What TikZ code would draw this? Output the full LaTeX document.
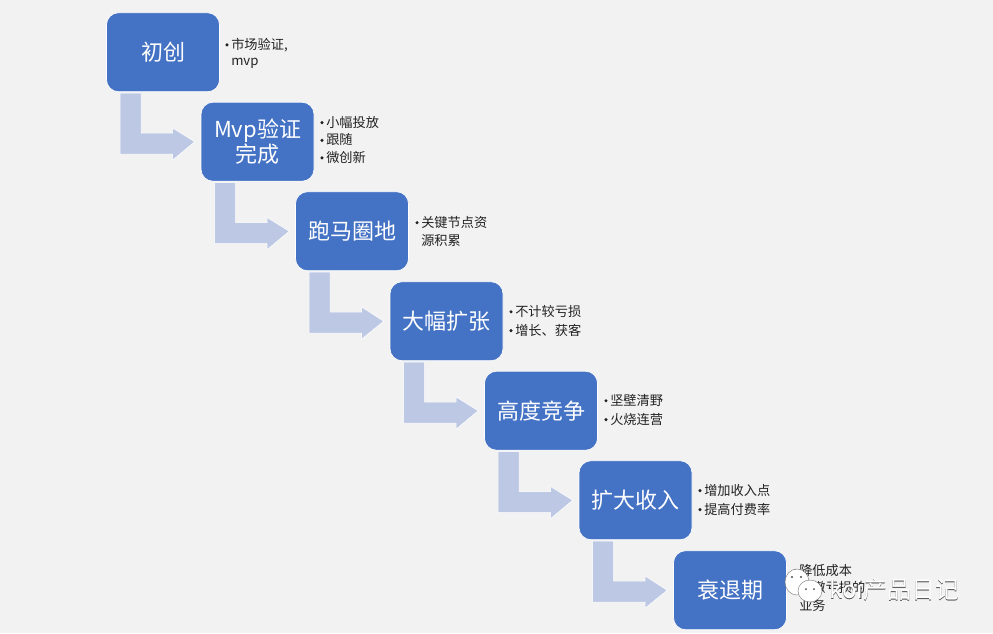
\documentclass[tikz,border=0pt]{standalone}
\usepackage{fontspec}
\setmainfont{Noto Sans CJK SC}
\usetikzlibrary{calc}
\definecolor{bgc}{HTML}{F2F2F2}
\definecolor{boxc}{HTML}{4472C4}
\definecolor{arrowc}{HTML}{BDC8E4}
\definecolor{textc}{HTML}{222222}
\tikzset{x=0.75pt,y=-0.75pt,
  stagebox/.style={draw=white,line width=0.5pt,fill=boxc,rounded corners=9pt,minimum width=84.75pt,minimum height=59.25pt,inner sep=0pt,text=white,font=\fontsize{16.5}{21}\selectfont,align=center,anchor=north west},
  notes/.style={anchor=north west,inner sep=0pt,font=\fontsize{9.9}{13.2}\selectfont,text=textc,align=left},
  bentarrow/.style={fill=arrowc,draw=white,line width=0.4pt,line join=miter},
  wm/.style={anchor=west,inner sep=0pt,font=\fontsize{18}{20}\selectfont,text=white},
  wmshadow/.style={wm,text=black!70}}
\newcommand{\bul}{\makebox[4.5pt][l]{\raisebox{2.2pt}{\tikz\fill[textc] (0,0) circle (1.3pt);}}}
\newcommand{\bentconn}[2]{%
  \path[bentarrow] ($(#1.south west)+(14,1)$) -- ($(#1.south west)+(35,1)$) -- ($(#1.south west)+(35,41)$)
   -- ($(#1.south west)+(66.5,41)$) -- ($(#1.south west)+(66.5,36)$) -- ($(#2.west)+(-6,0)$)
   -- ($(#1.south west)+(66.5,68)$) -- ($(#1.south west)+(66.5,62)$) -- ($(#1.south west)+(14,62)$) -- cycle;}
\begin{document}
\begin{tikzpicture}
\useasboundingbox (0,0) rectangle (993,633);
\fill[bgc] (0,0) rectangle (993,633);
\node[stagebox] (s1) at (106.2,12.4) {初创};
\node[stagebox] (s2) at (200.7,101.9) {Mvp验证\\[-2pt]完成};
\node[stagebox] (s3) at (295.2,191.4) {跑马圈地};
\node[stagebox] (s4) at (389.7,281.4) {大幅扩张};
\node[stagebox] (s5) at (484.2,370.9) {高度竞争};
\node[stagebox] (s6) at (578.7,460.4) {扩大收入};
\node[stagebox] (s7) at (673.2,550.4) {衰退期};
\bentconn{s1}{s2}
\bentconn{s2}{s3}
\bentconn{s3}{s4}
\bentconn{s4}{s5}
\bentconn{s5}{s6}
\bentconn{s6}{s7}
\node[notes] (n1) at (225,38) {\bul 市场验证,\\[-1pt]\hspace{4.5pt}mvp};
\node[notes] (n2) at (320,116) {\bul 小幅投放\\\bul 跟随\\\bul 微创新};
\node[notes] (n3) at (415,216) {\bul 关键节点资\\\hspace{4.5pt}源积累};
\node[notes] (n4) at (509,305) {\bul 不计较亏损\\[1pt]\bul 增长、获客};
\node[notes] (n5) at (604,394) {\bul 坚壁清野\\[1pt]\bul 火烧连营};
\node[notes] (n6) at (698,484) {\bul 增加收入点\\[1pt]\bul 提高付费率};
\node[notes] (n7) at (793,564) {\bul 降低成本\\\bul 裁撤亏损的\\\hspace{4.5pt}业务};
\fill[white,draw=black!55,line width=0.3pt] (797,582) ellipse (12 and 13);
\fill[white,draw=black!55,line width=0.3pt] (810,591) ellipse (12 and 11);
\fill[black!70] (792,577) circle (1.2) (801,577) circle (1.2) (806,589) circle (1) (814,589) circle (1);
\node[wmshadow] (ws) at (829.6,590) {koi产品日记};
\node[wm] (w) at (829,589.4) {koi产品日记};
\end{tikzpicture}
\end{document}
